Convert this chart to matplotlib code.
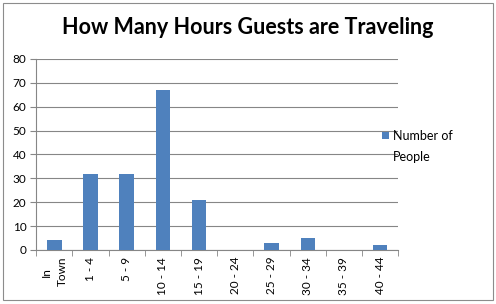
import matplotlib.pyplot as plt
from matplotlib.patches import Rectangle
import numpy as np

plt.rcParams['font.family'] = ['Lato', 'DejaVu Sans']

categories = ["In\nTown", "1 - 4", "5 - 9", "10 - 14", "15 - 19",
              "20 - 24", "25 - 29", "30 - 34", "35 - 39", "40 - 44"]
people = [4, 32, 32, 67, 21, 0, 3, 5, 0, 2]
series_name = "Number of"
series_name2 = "People"
title = "How Many Hours Guests are Traveling"

fig = plt.figure(figsize=(4.96, 3.04), dpi=100)
fig.patches.append(Rectangle((0.006, 0.012), 0.988, 0.978, transform=fig.transFigure,
                             fill=False, edgecolor='#8c8c8c', lw=0.8))

ax = fig.add_axes([0.073, 0.178, 0.73, 0.628])
x = np.arange(len(categories))
bars = ax.bar(x, people, width=0.4, color='#4F81BD', zorder=3)

ax.set_xlim(-0.5, len(categories) - 0.5)
ax.set_ylim(0, 80)
ax.set_yticks(range(0, 81, 10))
ax.yaxis.grid(True, color='#868686', lw=0.8, zorder=0)

ax.set_xticks(x)
ax.set_xticklabels(categories, rotation=90, fontsize=8.5, linespacing=1.6)
ax.set_xticks(np.arange(-0.5, len(categories), 1), minor=True)
ax.tick_params(axis='x', which='major', length=0, pad=5)
ax.tick_params(axis='x', which='minor', length=4, color='#868686', direction='out')
ax.tick_params(axis='y', length=4, color='#868686', labelsize=8.5, pad=3)

for side in ['top', 'right']:
    ax.spines[side].set_visible(False)
for side in ['left', 'bottom']:
    ax.spines[side].set_color('#868686')
    ax.spines[side].set_linewidth(0.8)

fig.text(0.5, 0.91, title, ha='center', va='center', fontsize=15.5, fontweight='bold')

# legend: marker + two-line label, Excel style
fig.patches.append(Rectangle((0.771, 0.542), 0.014, 0.023, transform=fig.transFigure,
                             facecolor='#4F81BD', edgecolor='none'))
fig.text(0.792, 0.553, series_name, ha='left', va='center', fontsize=9)
fig.text(0.792, 0.483, series_name2, ha='left', va='center', fontsize=9)

fig.savefig('out.png', dpi=100)
